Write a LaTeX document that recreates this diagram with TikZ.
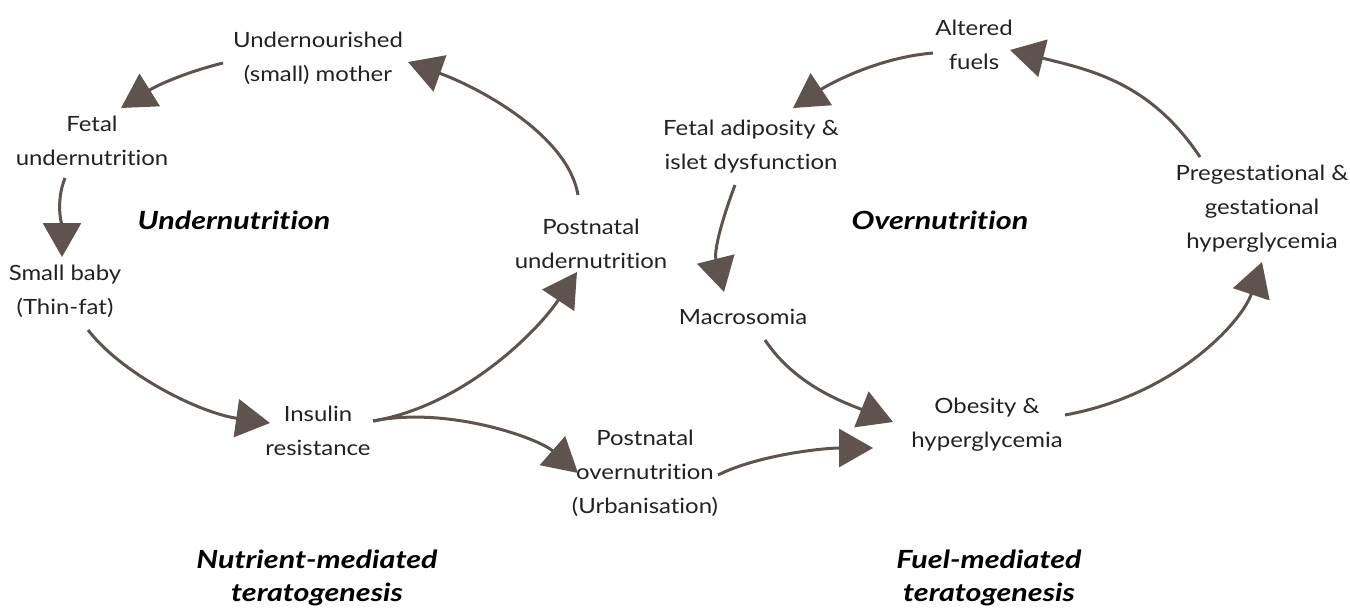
\documentclass[tikz,border=0pt]{standalone}
\usepackage{fontspec}
\setmainfont{Lato}[FakeStretch=1.14, Ligatures=NoCommon]
\newfontfamily\headfont{Lato}[FakeStretch=1.22, Ligatures=NoCommon]
\usepackage{xcolor}
\usepackage{tikz}
\usetikzlibrary{arrows.meta}

\definecolor{arrowbrown}{HTML}{5E534E}
\definecolor{textgray}{HTML}{222222}

\begin{document}
\begin{tikzpicture}[x=1pt, y=-1pt,
    label/.style={align=center, inner sep=0pt, text=textgray, font=\fontsize{21}{34}\selectfont},
    title/.style={align=center, inner sep=0pt, font=\headfont\fontsize{25}{33}\selectfont\bfseries\itshape},
    flow/.style={draw=arrowbrown, line width=3pt, -{Triangle[length=34pt, width=38pt]}, arrowbrown}]
    \useasboundingbox (0,0) rectangle (1350,608);

    % Undernutrition cycle
    \node[label] (mother) at (318,58) {Undernourished\\(small) mother};
    \node[label] (fetal) at (92,141) {Fetal\\undernutrition};
    \node[label] (baby) at (65,291) {Small baby\\(Thin-fat)};
    \node[label] (insulin) at (318,431) {Insulin\\resistance};
    \node[label] (postunder) at (591,244) {Postnatal\\undernutrition};
    \node[label] (postover) at (645,473) {Postnatal\\overnutrition\\(Urbanisation)};
    \node[title] (under) at (234,220) {Undernutrition};
    \node[title] (nutrient) at (317,578) {Nutrient-mediated\\teratogenesis};

    % Overnutrition cycle
    \node[label] (obesity) at (987,425) {Obesity \&\\hyperglycemia};
    \node[label] (macro) at (743,317) {Macrosomia};
    \node[label] (adipo) at (751,147) {Fetal adiposity \&\\islet dysfunction};
    \node[label] (fuels) at (974,45) {Altered\\fuels};
    \node[label] (preg) at (1262,209) {Pregestational \&\\gestational\\hyperglycemia};
    \node[title] (over) at (940,220) {Overnutrition};
    \node[title] (fuel) at (989,578) {Fuel-mediated\\teratogenesis};

    % Draw arrows
    \draw[flow] ([shift={(-95,5)}]mother.center) .. controls +(-40,10) and +(35,-22) .. ([shift={(29,-33)}]fetal.center);
    \draw[flow] ([shift={(-27,37)}]fetal.center) .. controls +(-10,25) and +(0,-30) .. ([shift={(-3,-34)}]baby.center);
    \draw[flow] ([shift={(23,39)}]baby.center) .. controls +(35,45) and +(-70,-10) .. ([shift={(-48,-8)}]insulin.center);
    \draw[flow] ([shift={(55,-10)}]insulin.center) .. controls +(90,-15) and +(-40,60) .. ([shift={(-14,28)}]postunder.center);
    \draw[flow] ([shift={(55,-10)}]insulin.center) .. controls +(75,-15) and +(-40,-35) .. ([shift={(-67,0)}]postover.center);
    \draw[flow] ([shift={(-13,-49)}]postunder.center) .. controls +(-10,-60) and +(70,25) .. ([shift={(90,4)}]mother.center);
    \draw[flow] ([shift={(73,2)}]postover.center) .. controls +(40,-20) and +(-50,0) .. ([shift={(-114,23)}]obesity.center);
    \draw[flow] ([shift={(22,23)}]macro.center) .. controls +(30,45) and +(-50,-20) .. ([shift={(-94,-3)}]obesity.center);
    \draw[flow] ([shift={(-16,38)}]adipo.center) .. controls +(-15,40) and +(-10,-40) .. ([shift={(-19,-25)}]macro.center);
    \draw[flow] ([shift={(78,-10)}]obesity.center) .. controls +(110,-20) and +(-20,60) .. ([shift={(0,53)}]preg.center);
    \draw[flow] ([shift={(-62,-52)}]preg.center) .. controls +(-50,-75) and +(80,20) .. ([shift={(36,5)}]fuels.center);
    \draw[flow] ([shift={(-41,8)}]fuels.center) .. controls +(-60,5) and +(30,-20) .. ([shift={(42,-39)}]adipo.center);
\end{tikzpicture}
\end{document}
